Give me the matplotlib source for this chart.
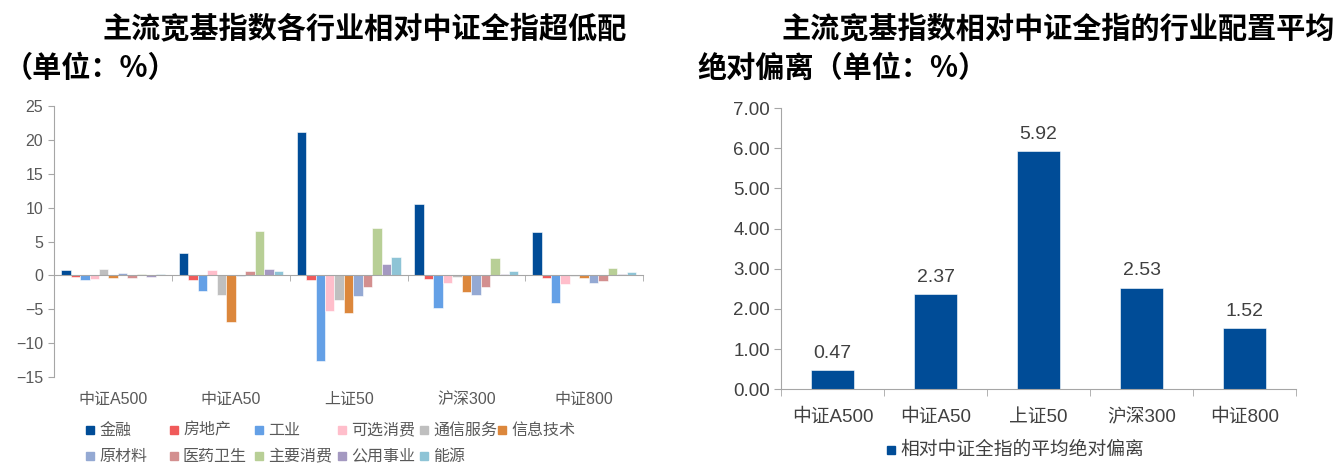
import matplotlib
matplotlib.use("Agg")
import matplotlib.pyplot as plt
import numpy as np
from matplotlib.patches import Rectangle

plt.rcParams['font.family'] = ['Liberation Sans', 'Noto Sans CJK SC', 'DejaVu Sans']
plt.rcParams['axes.unicode_minus'] = True

## Data
indices = ['中证A500', '中证A50', '上证50', '沪深300', '中证800']
sectors = ['金融', '房地产', '工业', '可选消费', '通信服务', '信息技术',
           '原材料', '医药卫生', '主要消费', '公用事业', '能源']
sector_colors = ['#004C97', '#F05A5A', '#64A0E6', '#FFBECB', '#BFBFBF', '#DC873C',
                 '#94A9D3', '#D38F8F', '#B8CF96', '#A499C1', '#8EC4D6']

# over/under weight vs 中证全指 (%), one list per index, in sector order
a500 = [0.8, -0.2, -0.7, -0.5, 1.0, -0.4, 0.3, -0.4, 0.2, -0.2, 0.2]
a50 = [3.3, -0.6, -2.35, 0.8, -2.9, -6.9, -0.1, 0.7, 6.6, 1.0, 0.6]
sz50 = [21.1, -0.6, -12.6, -5.2, -3.6, -5.6, -3.0, -1.7, 7.0, 1.7, 2.7]
hs300 = [10.5, -0.5, -4.85, -1.1, -0.3, -2.4, -2.9, -1.7, 2.6, 0.25, 0.6]
zz800 = [6.45, -0.35, -4.0, -1.3, -0.1, -0.35, -1.07, -0.83, 1.13, 0.25, 0.5]

avg_dev = [0.47, 2.37, 5.92, 2.53, 1.52]

W, H = 1337, 473
fig = plt.figure(figsize=(W / 100, H / 100), dpi=100)

def fx(px):
    return px / W

def fy(py):
    return 1 - py / H

tick_gray = '#595959'
axis_gray = '#A6A6A6'

# Titles
title_kw = dict(fontsize=21, fontweight='bold', color='black',
                family=['Noto Sans CJK SC', 'DejaVu Sans'], va='center')
fig.text(fx(365), fy(28), '主流宽基指数各行业相对中证全指超低配', ha='center', **title_kw)
fig.text(fx(4), fy(68), '（单位：%）', ha='left', **title_kw)
fig.text(fx(1058), fy(28), '主流宽基指数相对中证全指的行业配置平均', ha='center', **title_kw)
fig.text(fx(697), fy(68), '绝对偏离（单位：%）', ha='left', **title_kw)

## Left chart
ax1 = fig.add_axes([fx(54.3), fy(377.3), fx(643 - 54.3), (377.3 - 105.7) / H])
data = np.array([a500, a50, sz50, hs300, zz800]).T
x = np.arange(len(indices))
w = 0.0804
for i, (name, col) in enumerate(zip(sectors, sector_colors)):
    ax1.bar(x + (i - 5) * w, data[i], width=w, color=col,
            edgecolor='white', linewidth=0.4, label=name, zorder=2)

ax1.set_xlim(-0.5, 4.5)
ax1.set_ylim(-15, 25)
ax1.set_yticks(np.arange(-15, 26, 5))
ax1.spines['top'].set_visible(False)
ax1.spines['right'].set_visible(False)
ax1.spines['left'].set_color(axis_gray)
ax1.spines['bottom'].set_color(axis_gray)
ax1.spines['bottom'].set_position(('data', 0))
ax1.spines['bottom'].set_zorder(3)
ax1.set_xticks(x)
ax1.set_xticklabels([])
ax1.tick_params(axis='x', which='major', length=0)
ax1.set_xticks(np.arange(0.5, 4.6, 1), minor=True)
ax1.tick_params(axis='x', which='minor', length=4, color=axis_gray, direction='out')
ax1.tick_params(axis='y', length=4, color=axis_gray, labelsize=11.5, labelcolor=tick_gray, pad=4)
for xi, lab in zip(x, indices):
    ax1.text(xi, -0.08, lab, transform=ax1.get_xaxis_transform(),
             ha='center', va='center', fontsize=11.5, color=tick_gray)

# Left legend (two rows, fixed columns)
col_x = [86, 170, 255, 338, 420, 498]
row_y = [430, 456]
for i, (name, col) in enumerate(zip(sectors, sector_colors)):
    r, c = divmod(i, 6)
    px, py = col_x[c], row_y[r]
    fig.add_artist(Rectangle((fx(px), fy(py + 4)), 8 / W, 8 / H, color=col,
                             transform=fig.transFigure))
    fig.text(fx(px + 13), fy(py), name, ha='left', va='center',
             fontsize=11.5, color=tick_gray)

## Right chart
ax2 = fig.add_axes([fx(781), fy(389.3), fx(1296 - 781), (389.3 - 108) / H])
bar_col = '#004C97'
bars = ax2.bar(x, avg_dev, width=0.41, color=bar_col, edgecolor='white',
               linewidth=0.4, zorder=2)
for b, v in zip(bars, avg_dev):
    ax2.annotate(f'{v:.2f}', (b.get_x() + b.get_width() / 2, v),
                 xytext=(0, 6), textcoords='offset points', ha='center', va='bottom',
                 fontsize=14, color='#404040')
ax2.set_xlim(-0.5, 4.5)
ax2.set_ylim(0, 7)
ax2.set_yticks(np.arange(0, 7.01, 1))
ax2.set_yticklabels([f'{v:.2f}' for v in np.arange(0, 7.01, 1)])
ax2.spines['top'].set_visible(False)
ax2.spines['right'].set_visible(False)
ax2.spines['left'].set_color(axis_gray)
ax2.spines['bottom'].set_color(axis_gray)
ax2.set_xticks(x)
ax2.set_xticklabels(indices)
ax2.tick_params(axis='x', which='major', length=0, labelsize=13.5, labelcolor='#404040', pad=14)
ax2.set_xticks(np.arange(-0.5, 4.6, 1), minor=True)
ax2.tick_params(axis='x', which='minor', length=5, color=axis_gray, direction='out')
ax2.tick_params(axis='y', length=5, color=axis_gray, labelsize=13.5, labelcolor='#404040', pad=3)

fig.add_artist(Rectangle((fx(887), fy(454)), 8 / W, 8 / H, color=bar_col,
                         transform=fig.transFigure))
fig.text(fx(900), fy(450), '相对中证全指的平均绝对偏离', ha='left', va='center',
         fontsize=13.5, color='#404040')

fig.savefig('out.png', dpi=100)
